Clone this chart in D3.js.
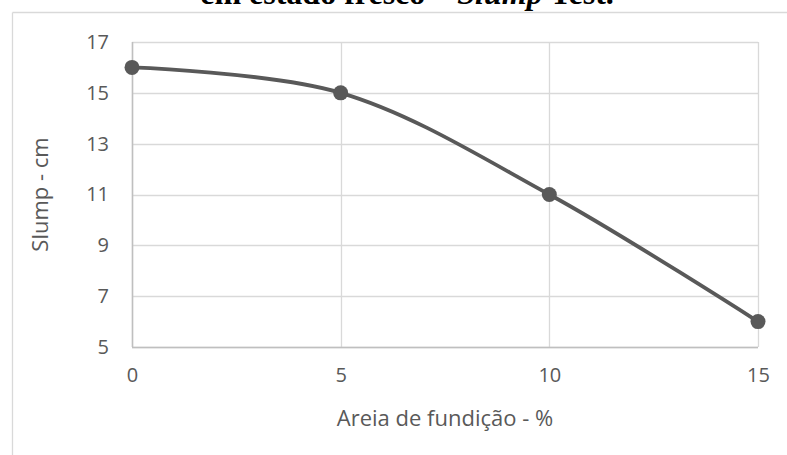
<!DOCTYPE html>
<html><head><meta charset="utf-8">
<script src="https://cdn.jsdelivr.net/npm/d3@7"></script>
<style>body{margin:0;background:#fff}svg{display:block}</style>
</head><body><svg id="c" width="787" height="455"></svg>
<script>
const xValues = [0, 5, 10, 15];
const slumpValues = [16, 15, 11, 6];
const yTicks = [5, 7, 9, 11, 13, 15, 17];
const xTicks = [0, 5, 10, 15];
const titleParts = ["em estado fresco – ", "Slump", " Test."];
const xTitle = "Areia de fundição - %";
const yTitle = "Slump - cm";

const svg = d3.select("#c");
const font = "'Open Sans', sans-serif";
const textCol = "#595959";

// frame
svg.append("line").attr("x1",12.5).attr("x2",787).attr("y1",12.5).attr("y2",12.5).attr("stroke","#d9d9d9").attr("stroke-width",1.3);
svg.append("line").attr("x1",12.5).attr("x2",12.5).attr("y1",12.5).attr("y2",455).attr("stroke","#d9d9d9").attr("stroke-width",1.3);

// title
const t = svg.append("text").attr("x",407).attr("y",4).attr("text-anchor","middle")
  .attr("font-family","'Liberation Serif', 'Times New Roman', serif").attr("font-size",32).attr("font-weight","bold").attr("fill","#000");
t.append("tspan").text(titleParts[0]);
t.append("tspan").attr("font-style","italic").text(titleParts[1]);
t.append("tspan").text(titleParts[2]);

const x = d3.scaleLinear().domain([0,15]).range([132,758]);
const y = d3.scaleLinear().domain([5,17]).range([347,42]);

const g = svg.append("g");
g.selectAll(".hg").data(yTicks).join("line")
  .attr("x1",x(0)).attr("x2",x(15)).attr("y1",d=>Math.round(y(d))+0.5).attr("y2",d=>Math.round(y(d))+0.5)
  .attr("stroke","#d9d9d9").attr("stroke-width",1.3);
g.selectAll(".vg").data(xTicks).join("line")
  .attr("y1",y(5)).attr("y2",y(17)).attr("x1",d=>Math.round(x(d))+0.5).attr("x2",d=>Math.round(x(d))+0.5)
  .attr("stroke","#d9d9d9").attr("stroke-width",1.3);
g.append("line").attr("x1",x(0)).attr("x2",x(15)).attr("y1",Math.round(y(5))+0.5).attr("y2",Math.round(y(5))+0.5).attr("stroke","#bfbfbf").attr("stroke-width",1.5);
g.append("line").attr("x1",Math.round(x(0))+0.5).attr("x2",Math.round(x(0))+0.5).attr("y1",y(5)).attr("y2",y(17)).attr("stroke","#bfbfbf").attr("stroke-width",1.5);

const ya = d3.axisLeft(y).tickValues(yTicks).tickSize(0).tickPadding(23);
const yg = svg.append("g").attr("transform",`translate(${x(0)},0)`).call(ya);
const xa = d3.axisBottom(x).tickValues(xTicks).tickSize(0).tickPadding(21);
const xg = svg.append("g").attr("transform",`translate(0,${y(5)})`).call(xa);
[yg,xg].forEach(a=>{a.select(".domain").remove();a.attr("font-family",font).attr("font-size",20);a.selectAll("text").attr("fill",textCol);});

svg.append("text").attr("x",445).attr("y",426).attr("text-anchor","middle").attr("font-family",font).attr("font-size",22).attr("fill",textCol).text(xTitle);
svg.append("text").attr("transform",`translate(48,${(y(5)+y(17))/2}) rotate(-90)`).attr("text-anchor","middle").attr("font-family",font).attr("font-size",22).attr("fill",textCol).text(yTitle);

const data = xValues.map((v,i)=>({x:v,y:slumpValues[i]}));
svg.append("path").datum(data).attr("fill","none").attr("stroke","#595959").attr("stroke-width",3.8)
  .attr("d", d3.line().x(d=>x(d.x)).y(d=>y(d.y)).curve(d3.curveCatmullRom.alpha(0.5)));
svg.selectAll(".pt").data(data).join("circle").attr("cx",d=>x(d.x)).attr("cy",d=>y(d.y)).attr("r",7.5).attr("fill","#595959");
</script></body></html>
